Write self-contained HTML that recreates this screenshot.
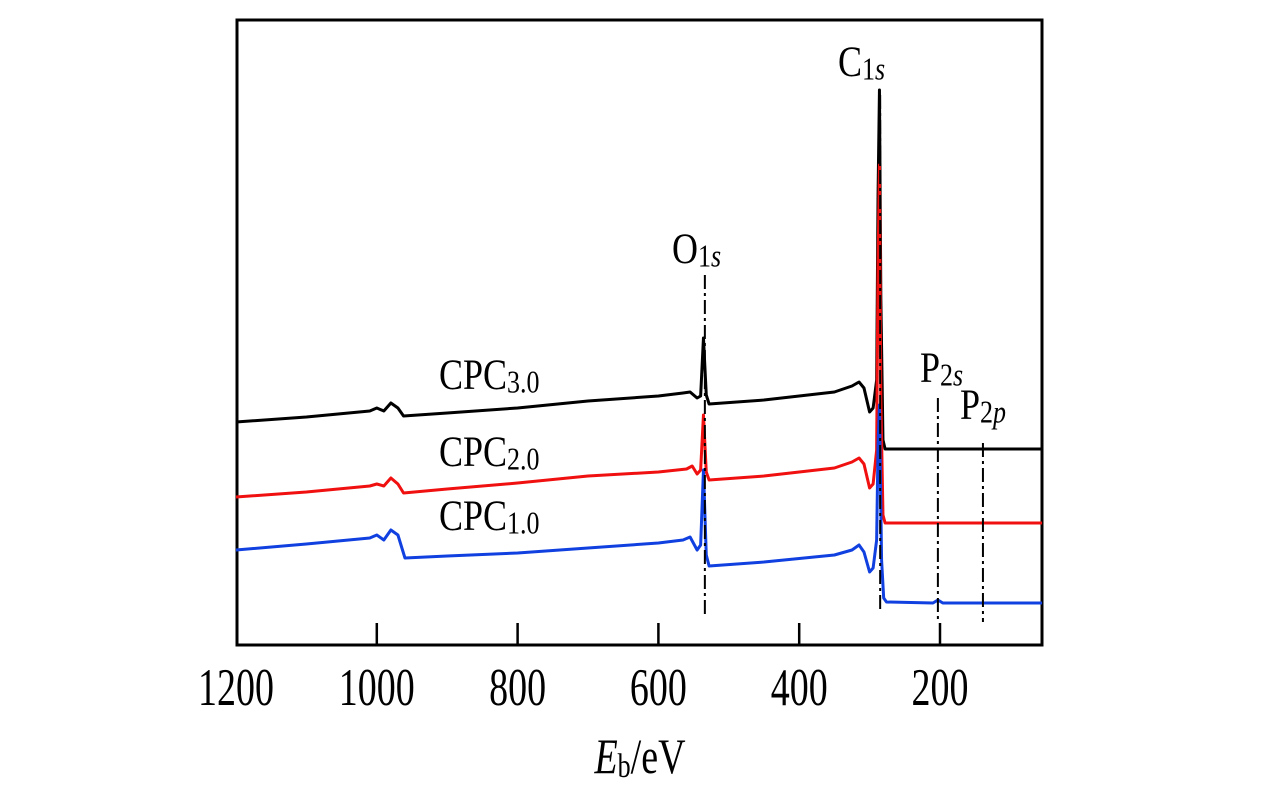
<!DOCTYPE html>
<html><head><meta charset="utf-8"><style>
html,body{margin:0;padding:0;background:#fff;}
svg{display:block;font-family:"Liberation Serif",serif;}
</style></head><body>
<svg id="chart" width="1276" height="787">
<rect x="237" y="20" width="805" height="625" fill="none" stroke="#000" stroke-width="3"/>
<g id="ticks"></g>
<g id="series"></g>
<g id="markers"></g>
<text transform="translate(640,773) scale(1,1.3)" font-size="38" text-anchor="middle"><tspan font-style="italic">E</tspan><tspan font-size="26" dy="3">b</tspan><tspan dy="-3">/eV</tspan></text>
<text transform="translate(439,389) scale(1,1.2)" font-size="36">CPC<tspan font-size="26" dy="3">3.0</tspan></text>
<text transform="translate(439,466) scale(1,1.2)" font-size="36">CPC<tspan font-size="26" dy="3">2.0</tspan></text>
<text transform="translate(439,530) scale(1,1.2)" font-size="36">CPC<tspan font-size="26" dy="3">1.0</tspan></text>
<text transform="translate(672,263) scale(1,1.2)" font-size="36">O<tspan font-size="26" dy="3">1</tspan><tspan font-size="26" font-style="italic">s</tspan></text>
<text transform="translate(838,76) scale(1,1.2)" font-size="36">C<tspan font-size="26" dy="3">1</tspan><tspan font-size="26" font-style="italic">s</tspan></text>
<text transform="translate(920,382) scale(1,1.2)" font-size="36">P<tspan font-size="26" dy="3">2</tspan><tspan font-size="26" font-style="italic">s</tspan></text>
<text transform="translate(960,419) scale(1,1.2)" font-size="36">P<tspan font-size="26" dy="3">2</tspan><tspan font-size="26" font-style="italic">p</tspan></text>
</svg>
<script>
const xTicks=[1200,1000,800,600,400,200];
const blackE=[1200,1100,1010,1000,990,980,970,962,900,800,700,600,565,555,545,540,536,532,528,450,350,325,315,308,300,295,290,288,286,284,281,278,55];
const blackI=[223,228,234,237,234,242,237,229,232,237,244,249,252,253,247,249,307,250,241,245,253,259,263,257,233,237,265,450,555,345,205,196,196];
const redE=[1200,1100,1010,1000,990,980,970,962,900,800,700,600,560,552,545,540,536,532,528,450,350,325,315,308,300,295,290,288,286,284,281,278,55];
const redI=[148,153,159,161,159,167,161,152,156,162,169,173,176,179,171,175,230,173,165,169,177,183,187,181,157,161,195,380,480,245,130,122,122];
const blueE=[1200,1100,1010,1000,990,980,970,960,900,800,700,600,565,555,545,540,536,532,528,450,350,325,315,308,300,295,290,288,286,283,280,276,210,203,196,55];
const blueI=[95,101,107,110,105,115,110,87,89,92,97,102,105,108,95,100,175,90,79,83,90,95,100,93,73,77,105,200,240,85,47,43,42,45,42,42];
const markerE=[534,285,203,139];
const markerTop=[275,95,398,443];
const markerBottom=[615,610,620,622];
const x=e=>236+(1200-e)*0.704;
const y=v=>645-v;
const NS="http://www.w3.org/2000/svg";
const tg=document.getElementById('ticks');
xTicks.forEach(t=>{
 if(t!==1200){const l=document.createElementNS(NS,'line');
 l.setAttribute('x1',x(t));l.setAttribute('x2',x(t));l.setAttribute('y1',645);l.setAttribute('y2',623);
 l.setAttribute('stroke','#000');l.setAttribute('stroke-width','2.5');
 
 
 tg.appendChild(l);}
 const tx=document.createElementNS(NS,'text');
 tx.setAttribute('transform','translate('+x(t)+',705) scale(1,1.4)');
 tx.setAttribute('font-size','38');tx.setAttribute('text-anchor','middle');
 tx.textContent=t;
 
 
 tg.appendChild(tx);
});
const sg=document.getElementById('series');
function draw(E,I,c,name){
 const p=document.createElementNS(NS,'polyline');
 p.setAttribute('points',E.map((e,i)=>x(e)+','+y(I[i])).join(' '));
 p.setAttribute('fill','none');p.setAttribute('stroke',c);p.setAttribute('stroke-width','3');p.setAttribute('stroke-linejoin','round');
 
 
 sg.appendChild(p);
}
draw(blackE,blackI,'#000','series-cpc3');
draw(redE,redI,'#f01010','series-cpc2');
draw(blueE,blueI,'#1040e0','series-cpc1');
const mg=document.getElementById('markers');
markerE.forEach((e,i)=>{
 const l=document.createElementNS(NS,'line');
 l.setAttribute('x1',x(e));l.setAttribute('x2',x(e));l.setAttribute('y1',markerTop[i]);l.setAttribute('y2',markerBottom[i]);
 l.setAttribute('stroke','#000');l.setAttribute('stroke-width','2');l.setAttribute('stroke-dasharray','14 4 3 4');
 
 
 mg.appendChild(l);
});
</script>
</body></html>
